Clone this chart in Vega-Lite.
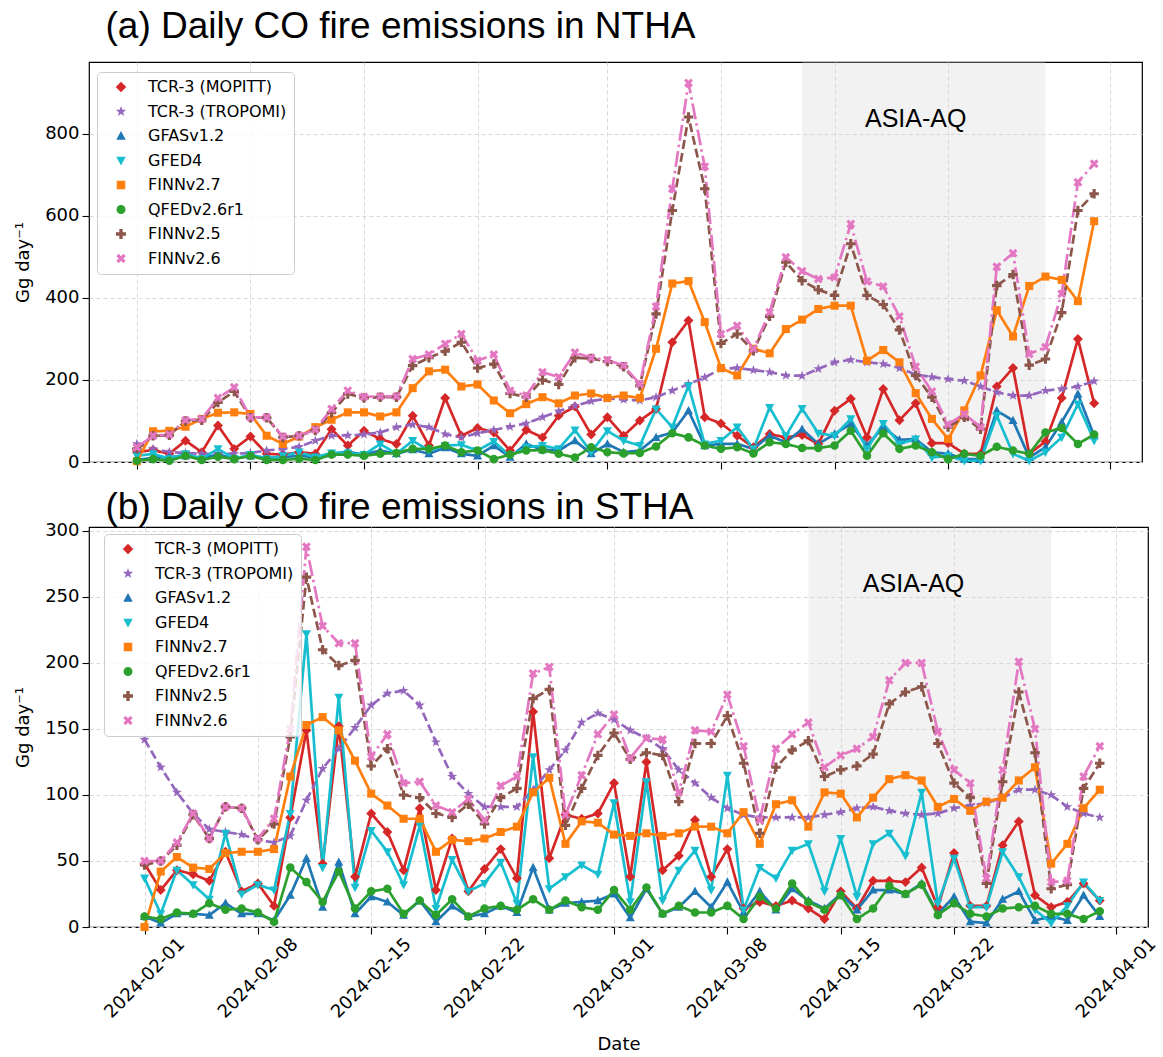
{
"$schema": "https://vega.github.io/schema/vega-lite/v6.json",
"background": "white",
"padding": {"left": 14, "top": 7, "right": 8, "bottom": 2},
"spacing": 16,
"config": {
 "font": "DejaVu Sans",
 "view": {"stroke": "black", "strokeWidth": 1.2},
 "axis": {"domain": false, "grid": true, "gridColor": "#d8d8d8", "gridDash": [4, 3], "gridWidth": 1, "tickColor": "black", "tickSize": 7, "tickWidth": 1.1, "labelFont": "DejaVu Sans", "labelFontSize": 18, "labelColor": "black", "labelPadding": 3, "titleFont": "DejaVu Sans", "titleFontSize": 18, "titleFontWeight": "normal", "titleColor": "black"},
 "legend": {"orient": "none", "labelFont": "DejaVu Sans", "labelFontSize": 16, "labelColor": "black", "labelLimit": 400, "symbolSize": 100, "symbolStrokeWidth": 0, "symbolOffset": 9, "labelOffset": 19, "rowPadding": 8.5, "padding": 7, "strokeColor": "#cccccc", "fillColor": "rgba(255,255,255,0.8)", "cornerRadius": 4, "symbolOpacity": 1,
  "symbolFillColor": {"expr": "datum.value=='m'?'#d62728':datum.value=='t'?'#9467bd':datum.value=='g'?'#1f77b4':datum.value=='f'?'#17becf':datum.value=='k'?'#ff7f0e':datum.value=='q'?'#2ca02c':datum.value=='b'?'#8c564b':'#e377c2'"}
 }
},
"datasets": {
 "a": [
{"d":"2024-02-01","m":24,"t":44,"g":5,"f":15,"k":2,"q":3,"b":32,"s":36},
{"d":"2024-02-02","m":29,"t":32,"g":10,"f":20,"k":75,"q":7,"b":64,"s":64},
{"d":"2024-02-03","m":20,"t":24,"g":12,"f":8,"k":76,"q":3,"b":65,"s":67},
{"d":"2024-02-04","m":52,"t":22,"g":15,"f":20,"k":86,"q":15,"b":100,"s":102},
{"d":"2024-02-05","m":24,"t":20,"g":10,"f":8,"k":105,"q":5,"b":102,"s":105},
{"d":"2024-02-06","m":89,"t":20,"g":18,"f":32,"k":120,"q":13,"b":145,"s":156},
{"d":"2024-02-07","m":32,"t":20,"g":8,"f":8,"k":121,"q":7,"b":172,"s":182},
{"d":"2024-02-08","m":62,"t":22,"g":15,"f":18,"k":117,"q":15,"b":108,"s":109},
{"d":"2024-02-09","m":20,"t":28,"g":10,"f":8,"k":64,"q":5,"b":108,"s":109},
{"d":"2024-02-10","m":18,"t":32,"g":12,"f":15,"k":44,"q":5,"b":60,"s":62},
{"d":"2024-02-11","m":24,"t":37,"g":15,"f":24,"k":62,"q":8,"b":64,"s":64},
{"d":"2024-02-12","m":20,"t":52,"g":12,"f":12,"k":85,"q":5,"b":77,"s":79},
{"d":"2024-02-13","m":80,"t":64,"g":20,"f":22,"k":103,"q":18,"b":120,"s":129},
{"d":"2024-02-14","m":40,"t":65,"g":25,"f":22,"k":121,"q":18,"b":166,"s":174},
{"d":"2024-02-15","m":76,"t":67,"g":18,"f":18,"k":121,"q":15,"b":156,"s":159},
{"d":"2024-02-16","m":56,"t":72,"g":28,"f":44,"k":111,"q":20,"b":158,"s":160},
{"d":"2024-02-17","m":44,"t":85,"g":20,"f":20,"k":121,"q":22,"b":158,"s":160},
{"d":"2024-02-18","m":113,"t":91,"g":30,"f":52,"k":180,"q":32,"b":235,"s":251},
{"d":"2024-02-19","m":40,"t":85,"g":20,"f":28,"k":221,"q":32,"b":254,"s":262},
{"d":"2024-02-20","m":156,"t":68,"g":35,"f":40,"k":225,"q":40,"b":270,"s":288},
{"d":"2024-02-21","m":64,"t":60,"g":20,"f":42,"k":184,"q":24,"b":292,"s":312},
{"d":"2024-02-22","m":83,"t":70,"g":15,"f":28,"k":189,"q":28,"b":229,"s":247},
{"d":"2024-02-23","m":72,"t":78,"g":40,"f":50,"k":150,"q":7,"b":239,"s":262},
{"d":"2024-02-24","m":28,"t":86,"g":12,"f":15,"k":119,"q":18,"b":167,"s":174},
{"d":"2024-02-25","m":78,"t":94,"g":44,"f":36,"k":141,"q":28,"b":158,"s":162},
{"d":"2024-02-26","m":60,"t":109,"g":30,"f":40,"k":158,"q":29,"b":200,"s":219},
{"d":"2024-02-27","m":113,"t":124,"g":28,"f":32,"k":143,"q":20,"b":189,"s":207},
{"d":"2024-02-28","m":135,"t":137,"g":52,"f":78,"k":162,"q":11,"b":254,"s":267},
{"d":"2024-02-29","m":67,"t":148,"g":20,"f":24,"k":167,"q":36,"b":252,"s":254},
{"d":"2024-03-01","m":109,"t":155,"g":44,"f":76,"k":156,"q":24,"b":245,"s":249},
{"d":"2024-03-02","m":64,"t":152,"g":24,"f":52,"k":162,"q":21,"b":232,"s":235},
{"d":"2024-03-03","m":101,"t":150,"g":28,"f":40,"k":156,"q":22,"b":186,"s":190},
{"d":"2024-03-04","m":129,"t":158,"g":60,"f":129,"k":276,"q":38,"b":361,"s":379},
{"d":"2024-03-05","m":292,"t":174,"g":72,"f":85,"k":435,"q":70,"b":613,"s":666},
{"d":"2024-03-06","m":345,"t":190,"g":125,"f":186,"k":441,"q":60,"b":841,"s":924},
{"d":"2024-03-07","m":109,"t":206,"g":40,"f":44,"k":341,"q":40,"b":666,"s":720},
{"d":"2024-03-08","m":94,"t":227,"g":44,"f":52,"k":229,"q":32,"b":289,"s":312},
{"d":"2024-03-09","m":64,"t":229,"g":44,"f":85,"k":211,"q":36,"b":312,"s":332},
{"d":"2024-03-10","m":36,"t":224,"g":32,"f":32,"k":276,"q":21,"b":271,"s":276},
{"d":"2024-03-11","m":68,"t":219,"g":64,"f":133,"k":265,"q":48,"b":355,"s":365},
{"d":"2024-03-12","m":60,"t":211,"g":48,"f":64,"k":324,"q":44,"b":487,"s":499},
{"d":"2024-03-13","m":66,"t":210,"g":80,"f":130,"k":347,"q":34,"b":442,"s":465},
{"d":"2024-03-14","m":44,"t":227,"g":44,"f":70,"k":373,"q":34,"b":420,"s":446},
{"d":"2024-03-15","m":125,"t":243,"g":68,"f":64,"k":381,"q":40,"b":406,"s":450},
{"d":"2024-03-16","m":154,"t":249,"g":93,"f":105,"k":381,"q":76,"b":532,"s":580},
{"d":"2024-03-17","m":60,"t":243,"g":40,"f":32,"k":247,"q":15,"b":406,"s":440},
{"d":"2024-03-18","m":178,"t":239,"g":85,"f":94,"k":273,"q":70,"b":384,"s":428},
{"d":"2024-03-19","m":102,"t":229,"g":54,"f":44,"k":243,"q":32,"b":322,"s":355},
{"d":"2024-03-20","m":143,"t":213,"g":56,"f":56,"k":168,"q":40,"b":211,"s":232},
{"d":"2024-03-21","m":46,"t":207,"g":24,"f":11,"k":105,"q":24,"b":158,"s":172},
{"d":"2024-03-22","m":46,"t":202,"g":20,"f":15,"k":56,"q":7,"b":85,"s":92},
{"d":"2024-03-23","m":20,"t":198,"g":7,"f":3,"k":126,"q":20,"b":109,"s":117},
{"d":"2024-03-24","m":20,"t":184,"g":7,"f":3,"k":211,"q":15,"b":80,"s":85},
{"d":"2024-03-25","m":184,"t":170,"g":125,"f":113,"k":370,"q":37,"b":430,"s":476},
{"d":"2024-03-26","m":229,"t":162,"g":101,"f":20,"k":306,"q":28,"b":457,"s":509},
{"d":"2024-03-27","m":20,"t":162,"g":11,"f":3,"k":429,"q":20,"b":236,"s":263},
{"d":"2024-03-28","m":50,"t":174,"g":36,"f":24,"k":452,"q":72,"b":251,"s":280},
{"d":"2024-03-29","m":156,"t":178,"g":97,"f":60,"k":444,"q":83,"b":364,"s":410},
{"d":"2024-03-30","m":300,"t":184,"g":166,"f":141,"k":392,"q":44,"b":613,"s":682},
{"d":"2024-03-31","m":143,"t":197,"g":64,"f":52,"k":587,"q":67,"b":654,"s":727}
 ],
 "b": [
{"d":"2024-02-01","m":48,"t":142,"g":8,"f":37,"k":0,"q":8,"b":47,"s":50},
{"d":"2024-02-02","m":28,"t":121,"g":3,"f":10,"k":42,"q":6,"b":50,"s":50},
{"d":"2024-02-03","m":43,"t":102,"g":10,"f":43,"k":53,"q":11,"b":62,"s":64},
{"d":"2024-02-04","m":40,"t":86,"g":10,"f":32,"k":45,"q":10,"b":85,"s":86},
{"d":"2024-02-05","m":35,"t":74,"g":9,"f":21,"k":44,"q":18,"b":67,"s":67},
{"d":"2024-02-06","m":57,"t":72,"g":18,"f":71,"k":56,"q":13,"b":91,"s":91},
{"d":"2024-02-07","m":27,"t":70,"g":10,"f":25,"k":57,"q":14,"b":90,"s":90},
{"d":"2024-02-08","m":33,"t":66,"g":10,"f":32,"k":57,"q":11,"b":66,"s":67},
{"d":"2024-02-09","m":16,"t":64,"g":5,"f":28,"k":59,"q":4,"b":78,"s":82},
{"d":"2024-02-10","m":83,"t":69,"g":24,"f":86,"k":114,"q":45,"b":144,"s":150},
{"d":"2024-02-11","m":149,"t":96,"g":52,"f":222,"k":153,"q":34,"b":265,"s":288},
{"d":"2024-02-12","m":48,"t":120,"g":15,"f":45,"k":159,"q":19,"b":210,"s":228},
{"d":"2024-02-13","m":152,"t":135,"g":49,"f":174,"k":149,"q":42,"b":198,"s":215},
{"d":"2024-02-14","m":38,"t":151,"g":10,"f":30,"k":126,"q":14,"b":202,"s":215},
{"d":"2024-02-15","m":86,"t":168,"g":23,"f":73,"k":101,"q":27,"b":122,"s":129},
{"d":"2024-02-16","m":72,"t":177,"g":19,"f":57,"k":92,"q":29,"b":135,"s":146},
{"d":"2024-02-17","m":43,"t":179,"g":9,"f":32,"k":82,"q":10,"b":100,"s":109},
{"d":"2024-02-18","m":90,"t":168,"g":20,"f":77,"k":82,"q":20,"b":98,"s":110},
{"d":"2024-02-19","m":28,"t":140,"g":4,"f":14,"k":57,"q":9,"b":86,"s":92},
{"d":"2024-02-20","m":67,"t":114,"g":16,"f":51,"k":66,"q":21,"b":83,"s":87},
{"d":"2024-02-21","m":27,"t":101,"g":8,"f":27,"k":65,"q":8,"b":93,"s":97},
{"d":"2024-02-22","m":44,"t":91,"g":10,"f":33,"k":67,"q":14,"b":78,"s":81},
{"d":"2024-02-23","m":59,"t":91,"g":16,"f":49,"k":72,"q":16,"b":98,"s":107},
{"d":"2024-02-24","m":37,"t":91,"g":11,"f":18,"k":76,"q":13,"b":105,"s":114},
{"d":"2024-02-25","m":163,"t":104,"g":45,"f":129,"k":102,"q":21,"b":173,"s":192},
{"d":"2024-02-26","m":52,"t":119,"g":13,"f":29,"k":113,"q":13,"b":180,"s":197},
{"d":"2024-02-27","m":85,"t":134,"g":18,"f":38,"k":63,"q":20,"b":77,"s":85},
{"d":"2024-02-28","m":82,"t":155,"g":19,"f":47,"k":80,"q":15,"b":105,"s":115},
{"d":"2024-02-29","m":86,"t":162,"g":20,"f":40,"k":79,"q":13,"b":130,"s":146},
{"d":"2024-03-01","m":109,"t":157,"g":25,"f":94,"k":70,"q":28,"b":147,"s":161},
{"d":"2024-03-02","m":38,"t":149,"g":7,"f":19,"k":69,"q":13,"b":127,"s":128},
{"d":"2024-03-03","m":125,"t":143,"g":29,"f":110,"k":71,"q":30,"b":132,"s":143},
{"d":"2024-03-04","m":43,"t":135,"g":10,"f":20,"k":69,"q":10,"b":130,"s":142},
{"d":"2024-03-05","m":54,"t":119,"g":15,"f":43,"k":71,"q":16,"b":95,"s":102},
{"d":"2024-03-06","m":81,"t":109,"g":27,"f":58,"k":76,"q":11,"b":139,"s":149},
{"d":"2024-03-07","m":38,"t":98,"g":15,"f":28,"k":76,"q":11,"b":139,"s":148},
{"d":"2024-03-08","m":59,"t":90,"g":34,"f":115,"k":71,"q":16,"b":160,"s":176},
{"d":"2024-03-09","m":14,"t":85,"g":11,"f":13,"k":87,"q":6,"b":124,"s":137},
{"d":"2024-03-10","m":19,"t":83,"g":27,"f":45,"k":63,"q":23,"b":71,"s":81},
{"d":"2024-03-11","m":16,"t":83,"g":13,"f":37,"k":93,"q":14,"b":121,"s":135},
{"d":"2024-03-12","m":20,"t":83,"g":29,"f":58,"k":96,"q":33,"b":134,"s":146},
{"d":"2024-03-13","m":14,"t":83,"g":20,"f":63,"k":76,"q":19,"b":141,"s":155},
{"d":"2024-03-14","m":6,"t":85,"g":14,"f":27,"k":102,"q":13,"b":114,"s":121},
{"d":"2024-03-15","m":27,"t":87,"g":25,"f":67,"k":101,"q":24,"b":119,"s":130},
{"d":"2024-03-16","m":14,"t":90,"g":13,"f":23,"k":83,"q":6,"b":122,"s":135},
{"d":"2024-03-17","m":35,"t":91,"g":28,"f":63,"k":98,"q":14,"b":131,"s":144},
{"d":"2024-03-18","m":35,"t":88,"g":28,"f":71,"k":112,"q":31,"b":169,"s":187},
{"d":"2024-03-19","m":34,"t":86,"g":25,"f":54,"k":115,"q":25,"b":178,"s":200},
{"d":"2024-03-20","m":45,"t":85,"g":33,"f":102,"k":111,"q":32,"b":182,"s":200},
{"d":"2024-03-21","m":15,"t":86,"g":10,"f":18,"k":91,"q":9,"b":139,"s":148},
{"d":"2024-03-22","m":56,"t":90,"g":23,"f":52,"k":97,"q":18,"b":109,"s":119},
{"d":"2024-03-23","m":16,"t":92,"g":4,"f":15,"k":88,"q":10,"b":98,"s":109},
{"d":"2024-03-24","m":16,"t":94,"g":3,"f":15,"k":95,"q":8,"b":33,"s":37},
{"d":"2024-03-25","m":62,"t":98,"g":21,"f":57,"k":98,"q":14,"b":110,"s":119},
{"d":"2024-03-26","m":80,"t":104,"g":27,"f":38,"k":111,"q":15,"b":178,"s":201},
{"d":"2024-03-27","m":24,"t":104,"g":5,"f":13,"k":121,"q":16,"b":132,"s":150},
{"d":"2024-03-28","m":15,"t":100,"g":8,"f":3,"k":48,"q":10,"b":29,"s":34},
{"d":"2024-03-29","m":19,"t":91,"g":5,"f":16,"k":63,"q":10,"b":32,"s":35},
{"d":"2024-03-30","m":33,"t":86,"g":24,"f":34,"k":90,"q":6,"b":105,"s":114},
{"d":"2024-03-31","m":20,"t":83,"g":8,"f":20,"k":104,"q":12,"b":124,"s":137}
 ]
},
"resolve": {"scale": {"x": "independent", "y": "independent", "color": "independent", "fill": "independent", "shape": "independent", "strokeDash": "independent"}, "legend": {"color": "independent", "fill": "independent", "shape": "independent", "strokeDash": "independent"}, "axis": {"x": "independent", "y": "independent"}},
"vconcat": [
 {
  "width": 1053, "height": 400,
  "title": {"text": "(a) Daily CO fire emissions in NTHA", "anchor": "start", "frame": "group", "dx": 16.5, "offset": -21, "baseline": "bottom", "font": "Liberation Sans", "fontSize": 37, "fontWeight": "normal", "color": "black"},
  "layer": [
   {"data": {"values": [{"s": "2024-03-13", "e": "2024-03-28"}]},
    "mark": {"type": "rect", "color": "#d3d3d3", "opacity": 0.3},
    "encoding": {"x": {"field": "s", "type": "temporal"}, "x2": {"field": "e"}}},
   {"data": {"values": [{"d": "2024-03-20", "y": 837, "t": "ASIA-AQ"}]},
    "mark": {"type": "text", "font": "Liberation Sans", "fontSize": 25, "align": "center", "baseline": "middle", "color": "black"},
    "encoding": {"x": {"field": "d", "type": "temporal"}, "y": {"field": "y", "type": "quantitative"}, "text": {"field": "t"}}},
   {"data": {"name": "a"}, "transform": [{"fold": ["m","t","g","f","k","q","b","s"], "as": ["series", "val"]}],
    "mark": {"type": "line", "strokeWidth": 2.7, "strokeJoin": "round"},
    "encoding": {
     "x": {"field": "d", "type": "temporal",
      "scale": {"type": "utc", "domain": [{"year":2024,"month":1,"date":29,"hours":1,"minutes":12,"utc":true},{"year":2024,"month":4,"date":2,"hours":22,"minutes":48,"utc":true}]},
      "axis": {"values": [{"year":2024,"month":2,"date":1,"utc":true},{"year":2024,"month":2,"date":8,"utc":true},{"year":2024,"month":2,"date":15,"utc":true},{"year":2024,"month":2,"date":22,"utc":true},{"year":2024,"month":3,"date":1,"utc":true},{"year":2024,"month":3,"date":8,"utc":true},{"year":2024,"month":3,"date":15,"utc":true},{"year":2024,"month":3,"date":22,"utc":true},{"year":2024,"month":4,"date":1,"utc":true}], "labels": false, "title": null}},
     "y": {"field": "val", "type": "quantitative", "scale": {"domain": [0, 975], "nice": false, "zero": false}, "axis": {"values": [0, 200, 400, 600, 800], "title": "Gg day⁻¹", "titlePadding": 12}},
     "color": {"field": "series", "type": "nominal", "scale": {"domain": ["m","t","g","f","k","q","b","s"], "range": ["#d62728","#9467bd","#1f77b4","#17becf","#ff7f0e","#2ca02c","#8c564b","#e377c2"]},
      "legend": {"title": null, "legendX": 8, "legendY": 10, "symbolStrokeWidth": 0,
       "symbolFillColor": {"expr": "datum.value=='m'?'#d62728':datum.value=='t'?'#9467bd':datum.value=='g'?'#1f77b4':datum.value=='f'?'#17becf':datum.value=='k'?'#ff7f0e':datum.value=='q'?'#2ca02c':datum.value=='b'?'#8c564b':'#e377c2'"},
       "symbolType": {"expr": "datum.value=='m'?'M-3.5,-0.27H3.5V0.27H-3.5ZM-1.05,0L0,-1.05L1.05,0L0,1.05Z':datum.value=='t'?'M-3.5,-0.27H-1.7V0.27H-3.5ZM-0.9,-0.27H0.9V0.27H-0.9ZM1.7,-0.27H3.5V0.27H1.7ZM0,-1.1L0.26,-0.36L1.05,-0.34L0.42,0.14L0.65,0.89L0,0.44L-0.65,0.89L-0.42,0.14L-1.05,-0.34L-0.26,-0.36Z':datum.value=='g'?'M-3.5,-0.27H3.5V0.27H-3.5ZM0,-1L0.95,0.75L-0.95,0.75Z':datum.value=='f'?'M-3.5,-0.27H3.5V0.27H-3.5ZM0,1L-0.95,-0.75L0.95,-0.75Z':datum.value=='k'?'M-3.5,-0.27H3.5V0.27H-3.5ZM-0.85,-0.85H0.85V0.85H-0.85Z':datum.value=='q'?'M-3.5,-0.27H3.5V0.27H-3.5ZM0.9,0A0.9,0.9,0,1,1,-0.9,0A0.9,0.9,0,1,1,0.9,0Z':datum.value=='b'?'M-3.5,-0.27H-1.7V0.27H-3.5ZM-0.9,-0.27H0.9V0.27H-0.9ZM1.7,-0.27H3.5V0.27H1.7ZM-0.33,-1H0.33V-0.33H1V0.33H0.33V1H-0.33V0.33H-1V-0.33H-0.33Z':'M-3.5,-0.27H-0.5V0.27H-3.5ZM2.1,-0.27H2.6V0.27H2.1ZM0.474,-0.941L0.941,-0.474L0.467,0L0.941,0.474L0.474,0.941L0,0.467L-0.474,0.941L-0.941,0.474L-0.467,0L-0.941,-0.474L-0.474,-0.941L0,-0.467Z'"},
       "labelExpr": "datum.label=='m'?'TCR-3 (MOPITT)':datum.label=='t'?'TCR-3 (TROPOMI)':datum.label=='g'?'GFASv1.2':datum.label=='f'?'GFED4':datum.label=='k'?'FINNv2.7':datum.label=='q'?'QFEDv2.6r1':datum.label=='b'?'FINNv2.5':'FINNv2.6'"}},
     "strokeDash": {"field": "series", "type": "nominal", "scale": {"domain": ["m","t","g","f","k","q","b","s"], "range": [[1,0],[9,4],[1,0],[1,0],[1,0],[1,0],[9,4],[16,4,2.5,4]]}, "legend": null}
    }},
   {"data": {"name": "a"}, "transform": [{"fold": ["m","t","g","f","k","q","b","s"], "as": ["sr", "val"]}],
    "mark": {"type": "point", "filled": true, "size": 90, "opacity": 1, "strokeWidth": 0},
    "encoding": {
     "x": {"field": "d", "type": "temporal"},
     "y": {"field": "val", "type": "quantitative"},
     "fill": {"field": "sr", "type": "nominal", "legend": null, "scale": {"domain": ["m","t","g","f","k","q","b","s"], "range": ["#d62728","#9467bd","#1f77b4","#17becf","#ff7f0e","#2ca02c","#8c564b","#e377c2"]}},
     "shape": {"field": "sr", "type": "nominal", "legend": null, "scale": {"domain": ["m","t","g","f","k","q","b","s"], "range": ["M-1.05,0L0,-1.05L1.05,0L0,1.05Z","M0,-1.1L0.26,-0.36L1.05,-0.34L0.42,0.14L0.65,0.89L0,0.44L-0.65,0.89L-0.42,0.14L-1.05,-0.34L-0.26,-0.36Z","M0,-1L0.95,0.75L-0.95,0.75Z","M0,1L-0.95,-0.75L0.95,-0.75Z","M-0.85,-0.85H0.85V0.85H-0.85Z","M0.9,0A0.9,0.9,0,1,1,-0.9,0A0.9,0.9,0,1,1,0.9,0Z","M-0.33,-1H0.33V-0.33H1V0.33H0.33V1H-0.33V0.33H-1V-0.33H-0.33Z","M0.474,-0.941L0.941,-0.474L0.467,0L0.941,0.474L0.474,0.941L0,0.467L-0.474,0.941L-0.941,0.474L-0.467,0L-0.941,-0.474L-0.474,-0.941L0,-0.467Z"]}}
    }}
  ]
 },
 {
  "width": 1059, "height": 400,
  "title": {"text": "(b) Daily CO fire emissions in STHA", "anchor": "start", "frame": "group", "dx": 16.5, "offset": -42, "baseline": "bottom", "font": "Liberation Sans", "fontSize": 37, "fontWeight": "normal", "color": "black"},
  "layer": [
   {"data": {"values": [{"s": "2024-03-13", "e": "2024-03-28"}]},
    "mark": {"type": "rect", "color": "#d3d3d3", "opacity": 0.3},
    "encoding": {"x": {"field": "s", "type": "temporal"}, "x2": {"field": "e"}}},
   {"data": {"values": [{"d": "2024-03-19T12:00:00Z", "y": 260, "t": "ASIA-AQ"}]},
    "mark": {"type": "text", "font": "Liberation Sans", "fontSize": 25, "align": "center", "baseline": "middle", "color": "black"},
    "encoding": {"x": {"field": "d", "type": "temporal"}, "y": {"field": "y", "type": "quantitative"}, "text": {"field": "t"}}},
   {"data": {"name": "b"}, "transform": [{"fold": ["m","t","g","f","k","q","b","s"], "as": ["series", "val"]}],
    "mark": {"type": "line", "strokeWidth": 2.7, "strokeJoin": "round"},
    "encoding": {
     "x": {"field": "d", "type": "temporal",
      "scale": {"type": "utc", "domain": [{"year":2024,"month":1,"date":28,"hours":13,"minutes":41,"utc":true},{"year":2024,"month":4,"date":2,"hours":23,"minutes":31,"utc":true}]},
      "axis": {"values": [{"year":2024,"month":2,"date":1,"utc":true},{"year":2024,"month":2,"date":8,"utc":true},{"year":2024,"month":2,"date":15,"utc":true},{"year":2024,"month":2,"date":22,"utc":true},{"year":2024,"month":3,"date":1,"utc":true},{"year":2024,"month":3,"date":8,"utc":true},{"year":2024,"month":3,"date":15,"utc":true},{"year":2024,"month":3,"date":22,"utc":true},{"year":2024,"month":4,"date":1,"utc":true}],
       "labelExpr": "utcFormat(datum.value, '%Y-%m-%d')", "labelAngle": -45, "labelAlign": "center", "labelBaseline": "middle", "labelPadding": 44, "labelOverlap": false, "labelFlush": false, "labelBound": false, "title": "Date", "titlePadding": 14}},
     "y": {"field": "val", "type": "quantitative", "scale": {"domain": [0, 303], "nice": false, "zero": false}, "axis": {"values": [0, 50, 100, 150, 200, 250, 300], "title": "Gg day⁻¹", "titlePadding": 12}},
     "color": {"field": "series", "type": "nominal", "scale": {"domain": ["m","t","g","f","k","q","b","s"], "range": ["#d62728","#9467bd","#1f77b4","#17becf","#ff7f0e","#2ca02c","#8c564b","#e377c2"]},
      "legend": {"title": null, "legendX": 15, "legendY": 7, "symbolStrokeWidth": 0,
       "symbolFillColor": {"expr": "datum.value=='m'?'#d62728':datum.value=='t'?'#9467bd':datum.value=='g'?'#1f77b4':datum.value=='f'?'#17becf':datum.value=='k'?'#ff7f0e':datum.value=='q'?'#2ca02c':datum.value=='b'?'#8c564b':'#e377c2'"},
       "symbolType": {"expr": "datum.value=='m'?'M-3.5,-0.27H3.5V0.27H-3.5ZM-1.05,0L0,-1.05L1.05,0L0,1.05Z':datum.value=='t'?'M-3.5,-0.27H-1.7V0.27H-3.5ZM-0.9,-0.27H0.9V0.27H-0.9ZM1.7,-0.27H3.5V0.27H1.7ZM0,-1.1L0.26,-0.36L1.05,-0.34L0.42,0.14L0.65,0.89L0,0.44L-0.65,0.89L-0.42,0.14L-1.05,-0.34L-0.26,-0.36Z':datum.value=='g'?'M-3.5,-0.27H3.5V0.27H-3.5ZM0,-1L0.95,0.75L-0.95,0.75Z':datum.value=='f'?'M-3.5,-0.27H3.5V0.27H-3.5ZM0,1L-0.95,-0.75L0.95,-0.75Z':datum.value=='k'?'M-3.5,-0.27H3.5V0.27H-3.5ZM-0.85,-0.85H0.85V0.85H-0.85Z':datum.value=='q'?'M-3.5,-0.27H3.5V0.27H-3.5ZM0.9,0A0.9,0.9,0,1,1,-0.9,0A0.9,0.9,0,1,1,0.9,0Z':datum.value=='b'?'M-3.5,-0.27H-1.7V0.27H-3.5ZM-0.9,-0.27H0.9V0.27H-0.9ZM1.7,-0.27H3.5V0.27H1.7ZM-0.33,-1H0.33V-0.33H1V0.33H0.33V1H-0.33V0.33H-1V-0.33H-0.33Z':'M-3.5,-0.27H-0.5V0.27H-3.5ZM2.1,-0.27H2.6V0.27H2.1ZM0.474,-0.941L0.941,-0.474L0.467,0L0.941,0.474L0.474,0.941L0,0.467L-0.474,0.941L-0.941,0.474L-0.467,0L-0.941,-0.474L-0.474,-0.941L0,-0.467Z'"},
       "labelExpr": "datum.label=='m'?'TCR-3 (MOPITT)':datum.label=='t'?'TCR-3 (TROPOMI)':datum.label=='g'?'GFASv1.2':datum.label=='f'?'GFED4':datum.label=='k'?'FINNv2.7':datum.label=='q'?'QFEDv2.6r1':datum.label=='b'?'FINNv2.5':'FINNv2.6'"}},
     "strokeDash": {"field": "series", "type": "nominal", "scale": {"domain": ["m","t","g","f","k","q","b","s"], "range": [[1,0],[9,4],[1,0],[1,0],[1,0],[1,0],[9,4],[16,4,2.5,4]]}, "legend": null}
    }},
   {"data": {"name": "b"}, "transform": [{"fold": ["m","t","g","f","k","q","b","s"], "as": ["sr", "val"]}],
    "mark": {"type": "point", "filled": true, "size": 90, "opacity": 1, "strokeWidth": 0},
    "encoding": {
     "x": {"field": "d", "type": "temporal"},
     "y": {"field": "val", "type": "quantitative"},
     "fill": {"field": "sr", "type": "nominal", "legend": null, "scale": {"domain": ["m","t","g","f","k","q","b","s"], "range": ["#d62728","#9467bd","#1f77b4","#17becf","#ff7f0e","#2ca02c","#8c564b","#e377c2"]}},
     "shape": {"field": "sr", "type": "nominal", "legend": null, "scale": {"domain": ["m","t","g","f","k","q","b","s"], "range": ["M-1.05,0L0,-1.05L1.05,0L0,1.05Z","M0,-1.1L0.26,-0.36L1.05,-0.34L0.42,0.14L0.65,0.89L0,0.44L-0.65,0.89L-0.42,0.14L-1.05,-0.34L-0.26,-0.36Z","M0,-1L0.95,0.75L-0.95,0.75Z","M0,1L-0.95,-0.75L0.95,-0.75Z","M-0.85,-0.85H0.85V0.85H-0.85Z","M0.9,0A0.9,0.9,0,1,1,-0.9,0A0.9,0.9,0,1,1,0.9,0Z","M-0.33,-1H0.33V-0.33H1V0.33H0.33V1H-0.33V0.33H-1V-0.33H-0.33Z","M0.474,-0.941L0.941,-0.474L0.467,0L0.941,0.474L0.474,0.941L0,0.467L-0.474,0.941L-0.941,0.474L-0.467,0L-0.941,-0.474L-0.474,-0.941L0,-0.467Z"]}}
    }}
  ]
 }
]
}
